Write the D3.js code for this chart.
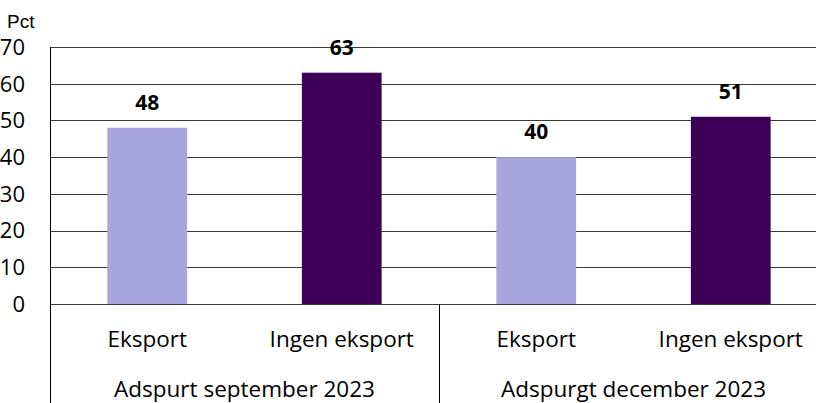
<!DOCTYPE html>
<html>
<head>
<meta charset="utf-8">
<script src="https://cdn.jsdelivr.net/npm/d3@7"></script>
<style>
  html, body { margin: 0; padding: 0; background: #fff; overflow: hidden; }
  svg { display: block; }
</style>
</head>
<body>
<div id="chart"></div>
<script>
// Chart data
const groups = ["Adspurt september 2023", "Adspurgt december 2023"];
const categories = ["Eksport", "Ingen eksport"];
const values = [48, 63, 40, 51]; // group-major order
const barColors = ["#a8a4de", "#3d0057"];
const yTicks = [0, 10, 20, 30, 40, 50, 60, 70];

const width = 816, height = 403;
const plotLeft = 50, plotTop = 47, plotBottom = 304;
const groupWidth = 389; // plot continues past the right edge of the window
const plotRight = plotLeft + groupWidth * groups.length;
const font = "'Open Sans', 'Noto Sans', sans-serif";

const svg = d3.select("#chart").append("svg")
    .attr("width", width)
    .attr("height", height);

const y = d3.scaleLinear().domain([0, 70]).range([plotBottom, plotTop]);

const x0 = d3.scaleBand().domain(groups).range([plotLeft, plotRight]);
const x1 = d3.scaleBand().domain(categories).range([0, x0.bandwidth()]).paddingInner(0.59).paddingOuter(0.295);

// Flatten into bar records
const bars = [];
groups.forEach((g, gi) => {
    categories.forEach((c, ci) => {
        bars.push({ group: g, cat: c, ci: ci, value: values[gi * categories.length + ci] });
    });
});

// Gridlines
svg.append("g").selectAll("line")
    .data(yTicks)
    .enter().append("line")
    .attr("x1", plotLeft).attr("x2", plotRight)
    .attr("y1", d => Math.round(y(d)) + 0.5)
    .attr("y2", d => Math.round(y(d)) + 0.5)
    .attr("stroke", "#3a3a3a")
    .attr("stroke-width", 1);

// Bars
svg.append("g").selectAll("rect")
    .data(bars)
    .enter().append("rect")
    .attr("x", d => x0(d.group) + x1(d.cat))
    .attr("width", x1.bandwidth())
    .attr("y", d => y(d.value))
    .attr("height", d => y(0) - y(d.value))
    .attr("fill", d => barColors[d.ci]);

// Value labels
svg.append("g").selectAll("text")
    .data(bars)
    .enter().append("text")
    .attr("x", d => x0(d.group) + x1(d.cat) + x1.bandwidth() / 2)
    .attr("y", d => y(d.value) - 18)
    .attr("text-anchor", "middle")
    .style("font-family", font)
    .style("font-size", "21px")
    .style("font-weight", "700")
    .attr("fill", "#000")
    .text(d => d.value);

// Axis frame lines
svg.append("line")
    .attr("x1", plotLeft + 0.5).attr("x2", plotLeft + 0.5)
    .attr("y1", plotTop).attr("y2", height)
    .attr("stroke", "#000");

svg.append("g").selectAll("line")
    .data(groups.slice(1))
    .enter().append("line")
    .attr("x1", d => x0(d) + 0.5).attr("x2", d => x0(d) + 0.5)
    .attr("y1", plotBottom).attr("y2", height)
    .attr("stroke", "#000");

// Y tick labels
svg.append("g").selectAll("text")
    .data(yTicks)
    .enter().append("text")
    .attr("x", 25)
    .attr("y", d => y(d))
    .attr("dy", "0.36em")
    .attr("text-anchor", "end")
    .style("font-family", font)
    .style("font-size", "22px")
    .attr("fill", "#000")
    .text(d => d);

svg.append("text")
    .attr("x", 7).attr("y", 28)
    .style("font-family", "'Liberation Sans', Arial, sans-serif")
    .style("font-size", "19px")
    .attr("fill", "#000")
    .text("Pct");

// Category labels
svg.append("g").selectAll("text")
    .data(bars)
    .enter().append("text")
    .attr("x", d => x0(d.group) + x1(d.cat) + x1.bandwidth() / 2)
    .attr("y", 347)
    .attr("text-anchor", "middle")
    .style("font-family", font)
    .style("font-size", "22.5px")
    .attr("fill", "#000")
    .text(d => d.cat);

// Group labels
svg.append("g").selectAll("text")
    .data(groups)
    .enter().append("text")
    .attr("x", d => x0(d) + x0.bandwidth() / 2)
    .attr("y", 397)
    .attr("text-anchor", "middle")
    .style("font-family", font)
    .style("font-size", "22.5px")
    .attr("fill", "#000")
    .text(d => d);
</script>
</body>
</html>
